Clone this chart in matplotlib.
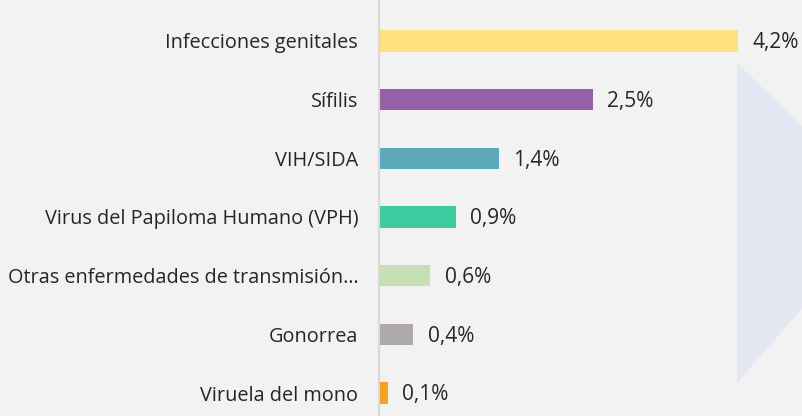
import matplotlib.pyplot as plt
from matplotlib.patches import Polygon

# datos
categorias = ['Infecciones genitales', 'Sífilis', 'VIH/SIDA',
              'Virus del Papiloma Humano (VPH)',
              'Otras enfermedades de transmisión…', 'Gonorrea',
              'Viruela del mono']
valores = [4.2, 2.5, 1.4, 0.9, 0.6, 0.4, 0.1]
colores = ['#FFE07D', '#975FA5', '#5BA9BB', '#3ECBA0', '#C5E0B4',
           '#AEAAAA', '#F5A21E']

plt.rcParams['font.family'] = ['Open Sans', 'DejaVu Sans']

fig = plt.figure(figsize=(8.03, 4.16), dpi=100, facecolor='#F2F2F2')

# marca de agua de fondo
fig.patches.append(Polygon([(737/803, 1-63/416), (803/803, 1-127/416),
                            (803/803, 1-307/416), (737/803, 1-383/416)],
                           closed=True, transform=fig.transFigure,
                           facecolor='#E3E7F1', edgecolor='none', zorder=0))

ax = fig.add_axes([379/803, 0, 424/803, 1])
ax.set_facecolor('none')

y = list(range(len(categorias)))
ax.barh(y, valores, height=0.36, color=colores, zorder=2)

for yi, v in zip(y, valores):
    ax.text(v + 0.17, yi + 0.03, f'{v:.1f}'.replace('.', ',') + '%',
            va='center', ha='left', fontsize=15, color='#262626')

ax.set_xlim(0, 424/85.5)
ax.set_ylim(6 + 23/58.67, -41/58.67)
ax.set_yticks(y)
ax.set_yticklabels(categorias, fontsize=14.3, color='#262626')
ax.tick_params(axis='y', length=0, pad=15)
ax.set_xticks([])
for s in ['top', 'right', 'bottom']:
    ax.spines[s].set_visible(False)
ax.spines['left'].set_color('#D9D9D9')
ax.spines['left'].set_linewidth(1.5)

fig.savefig('out.png', dpi=100, facecolor=fig.get_facecolor())
